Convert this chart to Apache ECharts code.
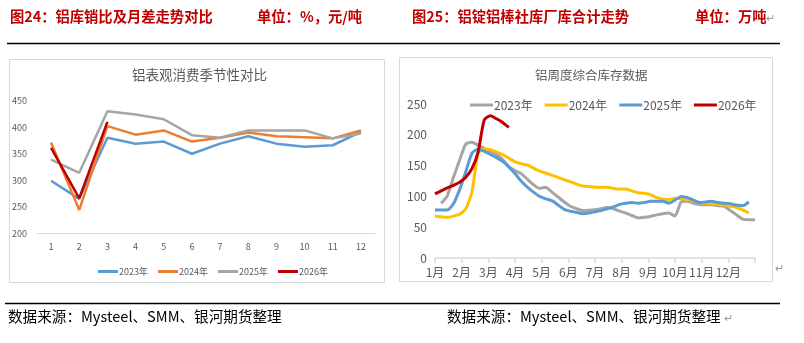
<!DOCTYPE html>
<html><head><meta charset="utf-8">
<script src="https://cdn.jsdelivr.net/npm/echarts@6/dist/echarts.min.js"></script>
<style>html,body{margin:0;padding:0;background:#fff}#c{width:804px;height:343px}</style>
</head><body><div id="c"></div>
<script>
// ---- Left chart: 铝表观消费季节性对比 ----
const leftMonths = ['1','2','3','4','5','6','7','8','9','10','11','12'];
const cons2023 = [299,265,380,369,373,350,369,383,369,363,366,391];
const cons2024 = [371,244,402,386,394,373,380,390,383,381,379,394];
const cons2025 = [339,314,430,424,415,385,380,394,394,394,379,388];
const cons2026 = [361,266,410];
const leftYTicks = [200,250,300,350,400,450];

// ---- Right chart: 铝周度综合库存数据 (weekly) ----
const monthLabels = ['1月','2月','3月','4月','5月','6月','7月','8月','9月','10月','11月','12月'];
const inv2023 = [89,101,131,159,185,188,183,178,173,168,160,148,142,137,128,119,113,115,107,99,91,84,80,77,77.5,78.5,80,82,80,76,73,69,65,66,67.5,70,72,73,68,91,92,89,87,86.5,86.5,85,84,77,70,63,62,62];
const inv2024 = [68,67,66,68,71,80,107,170,177,176,172,168,162,156,153,151,146,141,138,134,131,127,124,120,117,116,115,115,115,113,112,112,109,106,105,103,98,96,95,97,96,95,93,90,89,88,87,86,84,82,78,73];
const inv2025 = [78,78,78,88,111,140,170,177,173,168,163,157,148,137,125,115,107,100,96,93,86,79,76,74,72,73,75,77,80,83,87,89,90,89,90,92,92,92,89,94,100,98,94,90,91,92,90,89,88,86,85,91];
const inv2026 = [104,109,114,118,123,131,145,172,224,231,226,220,212];
const invStartWeek = {'2023':1,'2024':0,'2025':0,'2026':0};
const rightYTicks = [0,50,100,150,200,250];

const FONT = '"Noto Sans CJK SC","Microsoft YaHei",sans-serif';
const weekly = (arr, start) => arr.map((v,i)=>[(i+start)*12/52, v]);

const chart = echarts.init(document.getElementById('c'), null, {renderer:'canvas'});
const txt = (x,y,text,style) => ({type:'text',left:x,top:y,style:Object.assign({text:text,font:'15px '+FONT,fill:'#000'},style)});

chart.setOption({
  backgroundColor:'#fff',
  animation:false,
  graphic:[
    txt(10,9,'图24：铝库销比及月差走势对比',{font:'bold 14.3px '+FONT,fill:'#C00000'}),
    txt(257,9,'单位：%，元/吨',{font:'bold 14.3px '+FONT,fill:'#C00000'}),
    txt(412,9,'图25：铝锭铝棒社库厂库合计走势',{font:'bold 14.3px '+FONT,fill:'#C00000'}),
    txt(695,9,'单位：万吨',{font:'bold 14.3px '+FONT,fill:'#C00000'}),
    txt(766,12,'↵',{font:'11px '+FONT,fill:'#999'}),
    {type:'line',shape:{x1:7,y1:43.5,x2:780,y2:43.5},style:{stroke:'#000',lineWidth:1.3}},
    {type:'rect',shape:{x:9.5,y:59.5,width:375,height:223},style:{fill:'none',stroke:'#d9d9d9',lineWidth:1}},
    {type:'rect',shape:{x:399.5,y:57.5,width:373,height:224},style:{fill:'none',stroke:'#d9d9d9',lineWidth:1}},
    txt(775,262,'↵',{font:'11px '+FONT,fill:'#999'}),
    {type:'line',shape:{x1:5,y1:303.5,x2:780,y2:303.5},style:{stroke:'#000',lineWidth:1.3}},
    txt(8,309,'数据来源：Mysteel、SMM、银河期货整理',{font:'14.6px '+FONT,fill:'#000'}),
    txt(447,309,'数据来源：Mysteel、SMM、银河期货整理',{font:'14.6px '+FONT,fill:'#000'}),
    txt(724,312,'↵',{font:'11px '+FONT,fill:'#999'}),
    {type:'text',left:132,top:68,style:{text:'铝表观消费季节性对比',font:'13.5px '+FONT,fill:'#595959'}},
    {type:'text',left:535,top:69,style:{text:'铝周度综合库存数据',font:'12.5px '+FONT,fill:'#595959'}}
  ],
  legend:[
    {left:93,top:262,itemWidth:20,itemHeight:3,itemGap:10,icon:'rect',
     textStyle:{fontSize:9,color:'#595959',fontFamily:FONT,padding:[0,0,0,-4]},
     data:['2023年','2024年','2025年','2026年']},
    {left:465,top:94,itemWidth:23,itemHeight:3,itemGap:12,icon:'rect',
     textStyle:{fontSize:12,color:'#595959',fontFamily:FONT,padding:[0,0,0,-4]},
     formatter:n=>n.trim(),
     data:['2023年 ','2024年 ','2025年 ','2026年 ']}
  ],
  grid:[
    {left:37,right:429,top:100.7,bottom:109.7},
    {left:435,right:49,top:104,bottom:85}
  ],
  xAxis:[
    {gridIndex:0,type:'category',data:leftMonths,boundaryGap:true,
     axisLine:{lineStyle:{color:'#d9d9d9'}},axisTick:{show:false},
     axisLabel:{fontSize:9,color:'#595959',margin:9,fontFamily:FONT}},
    {gridIndex:1,type:'value',min:0,max:12,interval:1,
     axisLine:{lineStyle:{color:'#d9d9d9',width:1.5}},axisTick:{show:true,length:5,lineStyle:{color:'#d9d9d9',width:1.5}},
     splitLine:{show:false},
     axisLabel:{fontSize:12,color:'#595959',margin:8,fontFamily:FONT,
       formatter:v=>monthLabels[Math.round(v)]||''}}
  ],
  yAxis:[
    {gridIndex:0,type:'value',min:leftYTicks[0],max:leftYTicks[leftYTicks.length-1],interval:50,
     axisLine:{show:false},axisTick:{show:false},splitLine:{show:false},
     axisLabel:{fontSize:9,color:'#595959',margin:10,fontFamily:FONT}},
    {gridIndex:1,type:'value',min:rightYTicks[0],max:rightYTicks[rightYTicks.length-1],interval:50,
     axisLine:{show:false},axisTick:{show:false},splitLine:{show:false},
     axisLabel:{fontSize:12,color:'#595959',margin:8,fontFamily:FONT}}
  ],
  series:[
    {name:'2023年',type:'line',xAxisIndex:0,yAxisIndex:0,data:cons2023,showSymbol:false,lineStyle:{width:2.5,color:'#5B9BD5'},itemStyle:{color:'#5B9BD5'}},
    {name:'2024年',type:'line',xAxisIndex:0,yAxisIndex:0,data:cons2024,showSymbol:false,lineStyle:{width:2.5,color:'#ED7D31'},itemStyle:{color:'#ED7D31'}},
    {name:'2025年',type:'line',xAxisIndex:0,yAxisIndex:0,data:cons2025,showSymbol:false,lineStyle:{width:2.5,color:'#A5A5A5'},itemStyle:{color:'#A5A5A5'}},
    {name:'2026年',type:'line',xAxisIndex:0,yAxisIndex:0,data:cons2026,showSymbol:false,lineStyle:{width:2.5,color:'#C00000'},itemStyle:{color:'#C00000'}},
    {name:'2023年 ',type:'line',xAxisIndex:1,yAxisIndex:1,data:weekly(inv2023,invStartWeek['2023']),showSymbol:false,smooth:0.2,lineStyle:{width:3,color:'#A5A5A5'},itemStyle:{color:'#A5A5A5'}},
    {name:'2024年 ',type:'line',xAxisIndex:1,yAxisIndex:1,data:weekly(inv2024,invStartWeek['2024']),showSymbol:false,smooth:0.2,lineStyle:{width:3,color:'#FFC000'},itemStyle:{color:'#FFC000'}},
    {name:'2025年 ',type:'line',xAxisIndex:1,yAxisIndex:1,data:weekly(inv2025,invStartWeek['2025']),showSymbol:false,smooth:0.2,lineStyle:{width:3,color:'#5B9BD5'},itemStyle:{color:'#5B9BD5'}},
    {name:'2026年 ',type:'line',xAxisIndex:1,yAxisIndex:1,data:weekly(inv2026,invStartWeek['2026']),showSymbol:false,smooth:0.2,lineStyle:{width:3,color:'#C00000'},itemStyle:{color:'#C00000'}}
  ]
});
</script></body></html>
